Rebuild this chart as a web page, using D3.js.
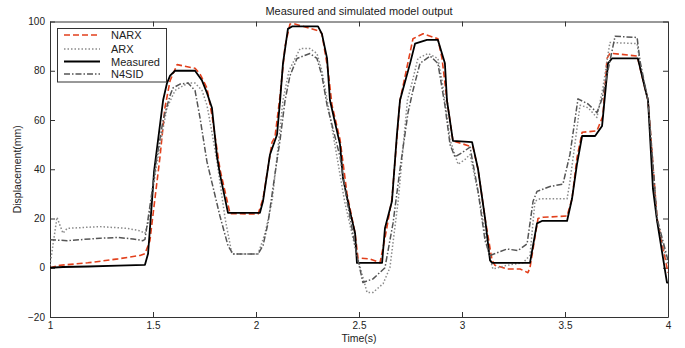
<!DOCTYPE html>
<html>
<head>
<meta charset="utf-8">
<script src="https://cdn.jsdelivr.net/npm/d3@7"></script>
<style>
  body { margin: 0; background: #fff; }
  text { font-family: "Liberation Sans", Arial, sans-serif; fill: #222; }
</style>
</head>
<body>
<div id="chart"></div>
<script>
// [time (s), displacement (mm)]
const narx = [[1.000,0],[1.049,1],[1.184,2],[1.330,3.6],[1.437,5],[1.461,5.7],[1.485,11],[1.505,25],[1.534,45],[1.558,65],[1.583,76],[1.617,82.5],[1.704,81],[1.728,78.7],[1.762,73],[1.786,62],[1.825,40],[1.874,22],[2.010,21.8],[2.034,28],[2.078,51],[2.092,53],[2.117,70],[2.141,90],[2.165,99],[2.189,99],[2.311,96],[2.320,95],[2.350,80],[2.369,66],[2.408,52],[2.442,30],[2.481,14],[2.495,4],[2.553,3.6],[2.602,2],[2.626,12],[2.660,28],[2.699,68],[2.762,93],[2.811,95],[2.883,93],[2.903,85],[2.927,68],[2.956,51.5],[3.053,49],[3.078,40],[3.112,20],[3.146,3],[3.160,1],[3.218,-0.5],[3.282,-0.5],[3.320,-2],[3.330,0],[3.369,20],[3.393,20.5],[3.510,21],[3.534,28],[3.558,44.6],[3.583,55],[3.655,55.6],[3.684,61.7],[3.704,85],[3.718,87],[3.733,87],[3.850,86],[3.888,73],[3.903,68],[3.947,20],[4.000,-2]];

const arx = [[1.000,1],[1.034,20.5],[1.063,14],[1.083,16],[1.243,16.7],[1.374,16],[1.437,15],[1.461,14],[1.476,18],[1.505,35],[1.534,50],[1.568,65],[1.607,72],[1.670,75],[1.704,75],[1.738,72],[1.762,66],[1.786,55],[1.811,43],[1.850,20],[1.883,5.6],[2.010,5.6],[2.044,14],[2.078,27],[2.102,45],[2.131,68],[2.160,80],[2.214,89],[2.262,89],[2.296,87],[2.320,80],[2.350,66],[2.430,27],[2.490,5],[2.539,-10],[2.568,-10],[2.617,-6.5],[2.650,0],[2.690,27],[2.735,68],[2.757,75],[2.786,85],[2.835,87],[2.883,85],[2.903,76],[2.917,68],[2.942,52],[2.981,42],[3.015,44],[3.039,46],[3.087,27],[3.126,7],[3.150,-0.5],[3.218,1],[3.296,2],[3.330,5],[3.354,27],[3.379,28],[3.510,28],[3.524,35],[3.573,66],[3.612,65],[3.655,61],[3.684,73],[3.718,91.5],[3.850,91],[3.864,83],[3.903,68],[3.947,19],[4.000,1]];

const measured = [[1.000,0],[1.063,0.3],[1.184,0.5],[1.330,0.9],[1.461,1.2],[1.476,5.7],[1.495,27],[1.505,39],[1.549,68],[1.568,75],[1.583,78],[1.607,80],[1.704,80],[1.738,76],[1.762,71],[1.786,65],[1.811,45],[1.825,38],[1.864,22.3],[2.019,22.3],[2.034,27],[2.068,46],[2.102,54],[2.117,68],[2.131,83],[2.155,97],[2.175,98],[2.301,98],[2.320,95],[2.345,85],[2.359,68],[2.408,50],[2.422,36.5],[2.456,23],[2.481,14],[2.490,2],[2.612,2],[2.626,16],[2.660,27],[2.684,54],[2.699,68],[2.748,83],[2.772,91],[2.830,92.5],[2.883,92.5],[2.917,83],[2.927,68],[2.956,51.5],[3.049,51],[3.078,40],[3.112,20],[3.136,3],[3.146,2],[3.330,2],[3.364,18],[3.388,19],[3.510,19],[3.534,28],[3.558,42],[3.583,53.5],[3.646,53.5],[3.680,57.6],[3.709,83],[3.728,85],[3.854,85],[3.888,73],[3.903,68],[3.927,32],[3.947,19],[3.995,-6],[4.000,-6]];

const n4sid = [[1.000,11.4],[1.083,11],[1.243,12],[1.330,12.3],[1.403,11.7],[1.451,11],[1.461,11.5],[1.485,25],[1.519,45],[1.549,60],[1.583,70],[1.597,73],[1.631,74.6],[1.670,75],[1.704,72],[1.728,61],[1.762,43],[1.825,21],[1.864,9],[1.888,5.6],[2.010,5.6],[2.034,9],[2.058,18],[2.092,38],[2.117,52],[2.141,68],[2.165,78],[2.199,85],[2.262,87],[2.296,85],[2.320,78],[2.345,66],[2.408,45],[2.442,27],[2.490,5],[2.519,-6],[2.568,-4.5],[2.626,0],[2.665,18],[2.699,40],[2.738,63],[2.762,72],[2.796,83],[2.845,86],[2.883,83],[2.903,73],[2.917,66],[2.942,50],[2.966,45],[3.005,47],[3.039,49],[3.078,31],[3.112,11],[3.136,5],[3.218,7.6],[3.272,7],[3.316,9.7],[3.345,27],[3.364,31],[3.427,33],[3.490,34],[3.524,46],[3.563,68.6],[3.612,66.5],[3.655,63],[3.680,68.6],[3.743,94],[3.850,93.5],[3.864,84],[3.903,68],[3.947,20],[4.000,3]];

const seriesNames = ['NARX', 'ARX', 'Measured', 'N4SID'];
const xTicks = [1, 1.5, 2, 2.5, 3, 3.5, 4];
const yTicks = [-20, 0, 20, 40, 60, 80, 100];

const W = 685, H = 348;
const plotLeft = 50, plotRight = 668, plotTop = 21.5, plotBottom = 317;

// line styles, same order as the legend
const styles = [
    { data: narx, color: '#e2401c', width: 1.6, dash: '6,3' },
    { data: arx, color: '#8a8a8a', width: 1.5, dash: '1.5,2' },
    { data: measured, color: '#000', width: 1.8, dash: null },
    { data: n4sid, color: '#555', width: 1.5, dash: '6,2,1.5,2' }
];

let xScale = d3.scaleLinear().domain([1, 4]).range([plotLeft, plotRight]);
let yScale = d3.scaleLinear().domain([-20, 100]).range([plotBottom, plotTop]);

let svg = d3.select('#chart').append('svg')
    .attr('width', W)
    .attr('height', H);

svg.append('clipPath').attr('id', 'plot')
    .append('rect')
    .attr('x', plotLeft).attr('y', plotTop)
    .attr('width', plotRight - plotLeft).attr('height', plotBottom - plotTop);

// box + inward ticks on all four sides
let axisColor = '#333';
svg.append('g')
    .attr('transform', 'translate(0,' + plotBottom + ')')
    .call(d3.axisBottom(xScale).tickValues(xTicks).tickSizeInner(-5).tickSizeOuter(0).tickPadding(5)
        .tickFormat(function (d) { return d; }));
svg.append('g')
    .attr('transform', 'translate(0,' + plotTop + ')')
    .call(d3.axisTop(xScale).tickValues(xTicks).tickSizeInner(-5).tickSizeOuter(0).tickFormat(''));
svg.append('g')
    .attr('transform', 'translate(' + plotLeft + ',0)')
    .call(d3.axisLeft(yScale).tickValues(yTicks).tickSizeInner(-5).tickSizeOuter(0).tickPadding(5));
svg.append('g')
    .attr('transform', 'translate(' + plotRight + ',0)')
    .call(d3.axisRight(yScale).tickValues(yTicks).tickSizeInner(-5).tickSizeOuter(0).tickFormat(''));

svg.selectAll('.domain').attr('stroke', axisColor);
svg.selectAll('.tick line').attr('stroke', axisColor);
svg.selectAll('.tick text').style('font-size', '10px').attr('fill', '#222');

let line = d3.line()
    .x(function (d) { return xScale(d[0]); })
    .y(function (d) { return yScale(d[1]); });

let g = svg.append('g').attr('clip-path', 'url(#plot)');
g.selectAll('path.series')
    .data(styles)
    .enter().append('path')
    .attr('class', 'series')
    .attr('d', function (d) { return line(d.data); })
    .attr('fill', 'none')
    .attr('stroke', function (d) { return d.color; })
    .attr('stroke-width', function (d) { return d.width; })
    .attr('stroke-dasharray', function (d) { return d.dash; })
    .attr('stroke-linejoin', 'round');

// titles
svg.append('text')
    .attr('x', (plotLeft + plotRight) / 2).attr('y', 15)
    .attr('text-anchor', 'middle')
    .style('font-size', '11px')
    .text('Measured and simulated model output');

svg.append('text')
    .attr('x', (plotLeft + plotRight) / 2).attr('y', 342)
    .attr('text-anchor', 'middle')
    .style('font-size', '10.5px')
    .text('Time(s)');

svg.append('text')
    .attr('transform', 'translate(21,' + (plotTop + plotBottom) / 2 + ') rotate(-90)')
    .attr('text-anchor', 'middle')
    .style('font-size', '10.5px')
    .text('Displacement(mm)');

// legend
let legend = svg.append('g');
legend.append('rect')
    .attr('x', 57.5).attr('y', 28.5)
    .attr('width', 109).attr('height', 53.5)
    .attr('fill', '#fff')
    .attr('stroke', axisColor);

let rowY = [35, 49, 61.5, 74];
let rows = legend.selectAll('g.row')
    .data(styles)
    .enter().append('g')
    .attr('class', 'row')
    .attr('transform', function (d, i) { return 'translate(0,' + rowY[i] + ')'; });

rows.append('line')
    .attr('x1', 64).attr('x2', 100)
    .attr('y1', 0).attr('y2', 0)
    .attr('stroke', function (d) { return d.color; })
    .attr('stroke-width', function (d) { return d.width; })
    .attr('stroke-dasharray', function (d) { return d.dash; });

rows.append('text')
    .attr('x', 111).attr('y', 4)
    .style('font-size', '11px')
    .text(function (d, i) { return seriesNames[i]; });
</script>
</body>
</html>
